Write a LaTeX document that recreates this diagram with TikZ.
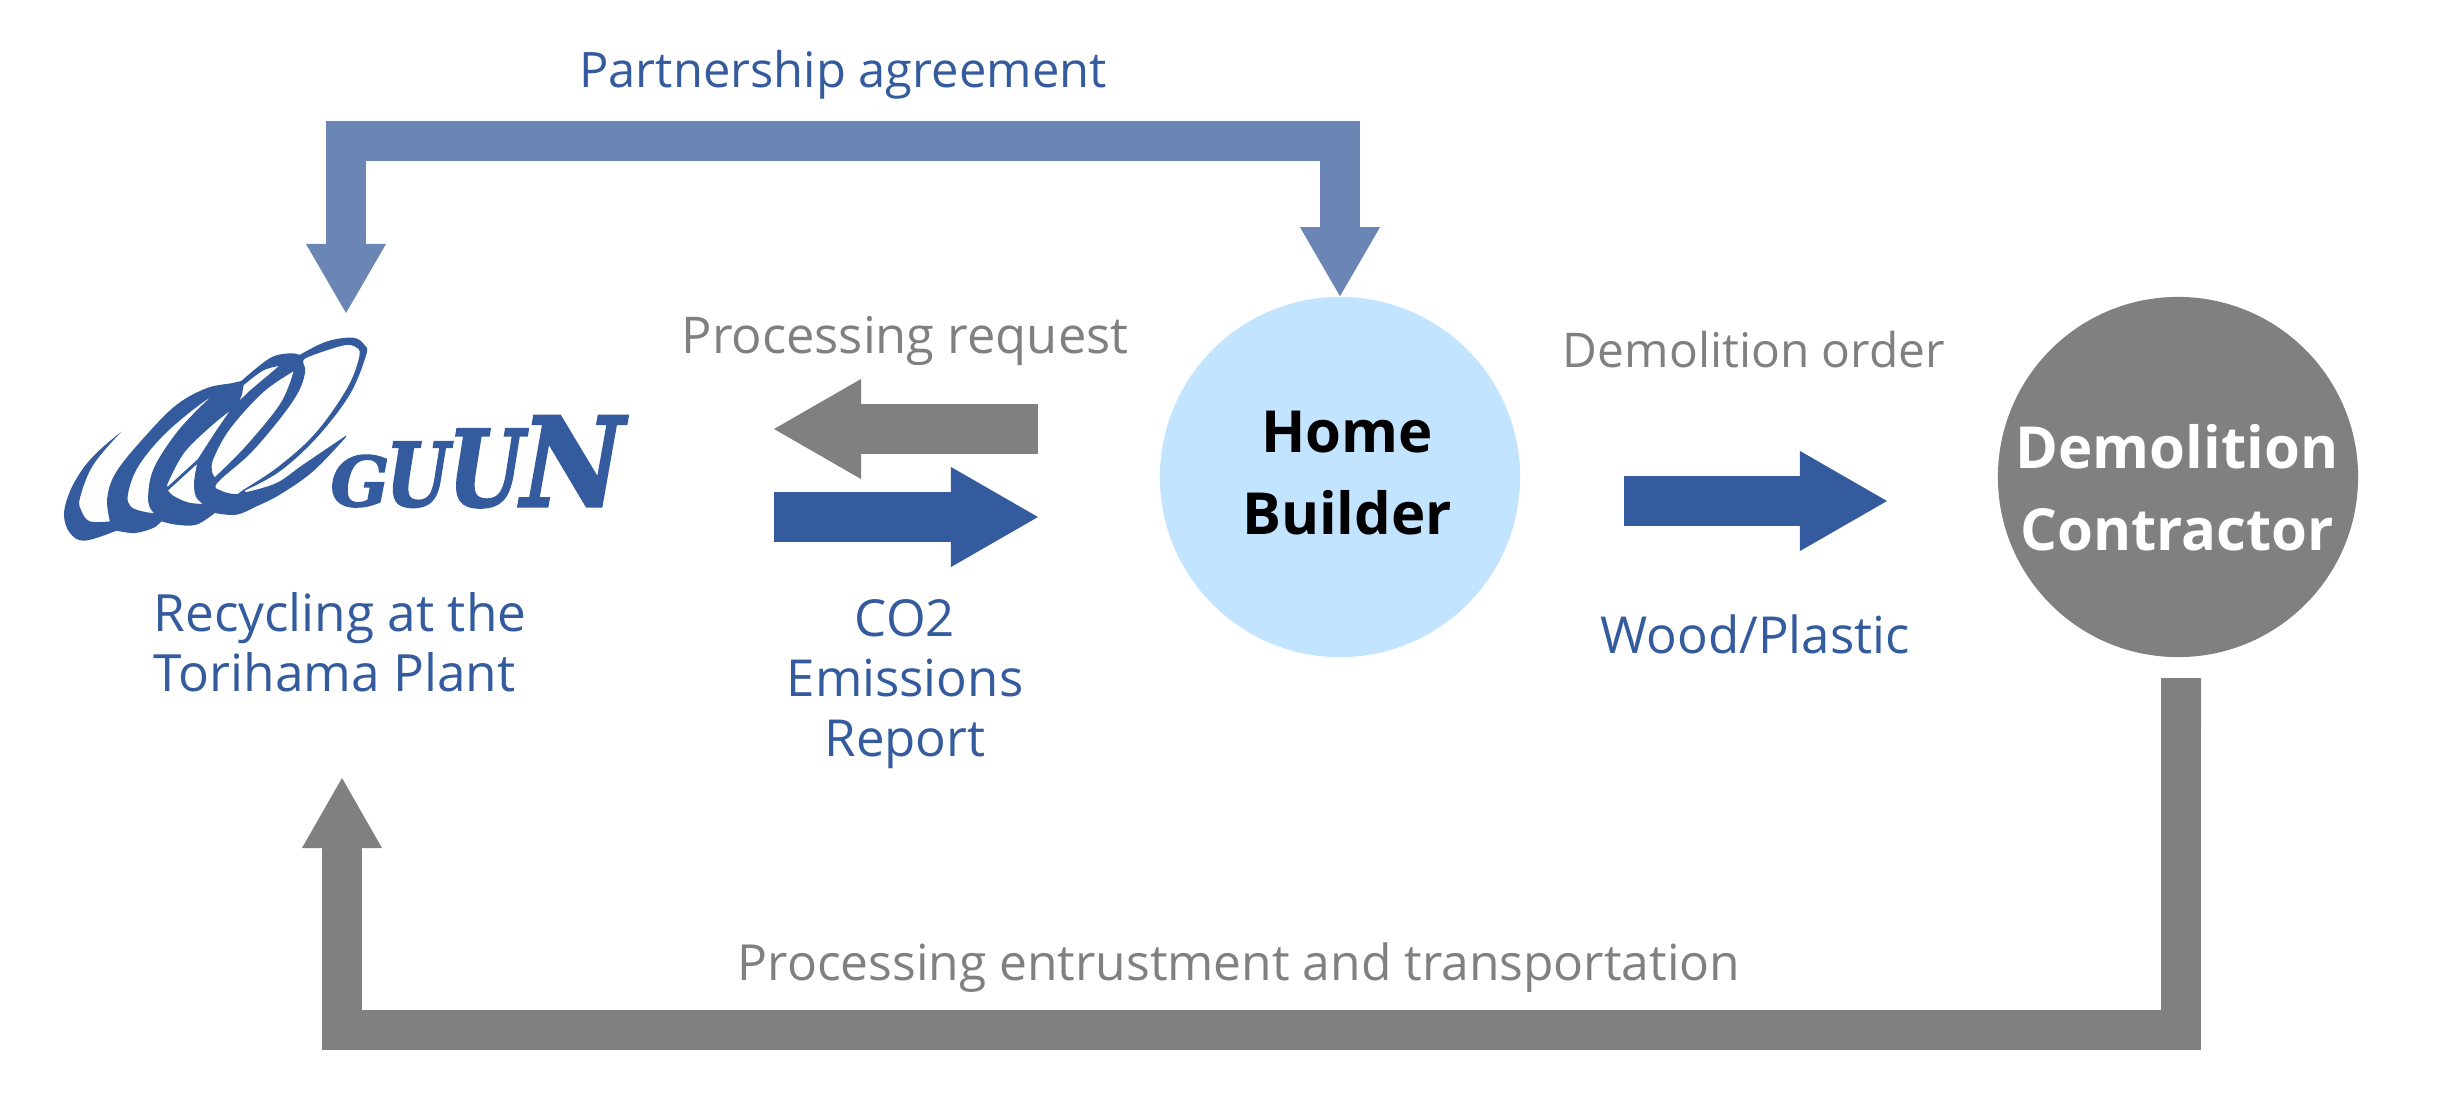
\documentclass[tikz,border=0pt]{standalone}
\usepackage{fontspec}
\setmainfont{Open Sans}
\newfontfamily\logofont[BoldItalicFeatures={FakeBold=2.5}]{DejaVu Serif}
\usetikzlibrary{arrows.meta}

\definecolor{guunblue}{HTML}{335B9E}
\definecolor{softblue}{HTML}{6B86B4}
\definecolor{flowgrey}{HTML}{808080}
\definecolor{homeblue}{HTML}{C2E4FF}

\newcommand{\gsize}[1]{\fontsize{#1}{17}\selectfont}

\tikzset{
  bluetext/.style={text=guunblue, inner sep=0pt, align=center},
  greytext/.style={text=flowgrey, inner sep=0pt},
  party/.style={circle, minimum size=3.6cm, inner sep=0pt},
  partytext/.style={font=\fontsize{16.5}{23.2}\bfseries\selectfont, inner sep=0pt, align=center},
  loopflow/.style={line width=0.4cm, line join=miter, {Triangle[length=0.69cm,width=0.8cm,line width=0pt]}-{Triangle[length=0.69cm,width=0.8cm,line width=0pt]}},
  flow/.style={line width=0.5cm, -{Triangle[length=0.87cm,width=1cm,line width=0pt]}},
  logoletter/.style={text=guunblue, anchor=base west, inner sep=0pt},
  logohole/.style={fill=white, draw=guunblue, line width=0.012cm}
}

\begin{document}
\begin{tikzpicture}[x=0.01cm, y=-0.01cm]
        \useasboundingbox (0,0) rectangle (2456,1108);

        \node[party, fill=homeblue] at (1340,477) (home) {};
        \node[party, fill=flowgrey] at (2178,477) (demo) {};
        \node[partytext] at (1347,473) (homename) {Home\\Builder};
        \node[partytext, text=white] at (2177,488) (demoname) {Demolition\\Contractor};

        % free ends of the two long connectors
        \coordinate (plantin) at (346,313);
        \coordinate (plantup) at (342,778);
        \coordinate (demoout) at (2181,678);
        \coordinate (topleft) at (346,141);
        \coordinate (topright) at (1340,141);
        \coordinate (lowleft) at (342,1030);
        \coordinate (lowright) at (2181,1030);

        \draw[loopflow, softblue] (plantin)--(topleft)--(topright)--(home.north);
        \draw[loopflow, flowgrey, {Triangle[length=0.7cm,width=0.8cm,line width=0pt]}-{Butt Cap[]}] (plantup)--(lowleft)--(lowright)--(demoout);

        \coordinate (reqstart) at (1038,429);
        \coordinate (reqend) at (774,429);
        \coordinate (repstart) at (774,517);
        \coordinate (repend) at (1038,517);
        \coordinate (woodstart) at (1624,501);
        \coordinate (woodend) at (1887,501);
        \draw[flow, flowgrey] (reqstart)--(reqend);
        \draw[flow, guunblue] (repstart)--(repend);
        \draw[flow, guunblue] (woodstart)--(woodend);

        \node[bluetext, font=\gsize{13.9}] at (843,75) (agreement) {Partnership agreement};
        \node[greytext, font=\gsize{14.4}] at (905,341) (request) {Processing request};
        \node[greytext, font=\gsize{13.6}] at (1754,350) (order) {Demolition order};
        \node[bluetext, font=\gsize{14.6}, align=left, anchor=west] at (153,642) (plant) {Recycling at the\\Torihama Plant};
        \node[bluetext, font=\gsize{14.5}] at (905,684) (report) {CO2\\Emissions\\Report};
        \node[bluetext, font=\gsize{14.5}] at (1755,634) (wood) {Wood/Plastic};
        \node[greytext, font=\gsize{14.15}] at (1239,968) (entrust) {Processing entrustment and transportation};

        % logo letters
        \node[logoletter, font=\logofont\bfseries\itshape] at (330,506) (logoname) {\fontsize{19.5}{20}\selectfont G\kern-0.3mm\fontsize{25}{26}\selectfont\scalebox{.82}[1]{U}\kern-0.1mm\fontsize{30}{31}\selectfont\scalebox{.82}[1]{U}\kern-0.2mm\fontsize{35}{36}\selectfont\scalebox{.91}[1]{N}};

        % logo swirl, read off in thirds of a pixel
        \begin{scope}[shift={(50,325)}, x=0.003333cm, y=-0.003333cm]
          \fill[guunblue] plot[smooth, tension=.6] coordinates {(215,320) (130,420) (90,520) (95,560) (120,590) (180,590)}
            -- plot[smooth, tension=.6] coordinates {(180,590) (172,520) (200,440) (290,330) (380,240) (470,190) (545,175) (575,168)}
            -- plot[smooth, tension=.6] coordinates {(575,168) (660,100) (720,85) (750,90)}
            -- plot[smooth, tension=.6] coordinates {(750,90) (830,50) (910,38) (945,60) (950,90) (900,210) (800,340) (690,440) (586,497)}
            -- plot[smooth, tension=.6] coordinates {(586,503) (680,475) (760,420) (890,332)}
            -- plot[smooth, tension=.6] coordinates {(890,336) (790,440) (690,510) (620,545) (560,570) (495,565)}
            -- plot[smooth, tension=.6] coordinates {(495,565) (440,600) (380,600) (335,590)}
            -- plot[smooth, tension=.6] coordinates {(335,590) (310,610) (255,625) (200,618)}
            -- plot[smooth, tension=.6] coordinates {(200,618) (105,648) (60,625) (42,570) (60,500) (100,430) (150,375) (215,320)} -- cycle;
          \filldraw[logohole] plot[smooth, tension=.6] coordinates {(510,195) (420,260) (330,340) (260,430) (232,510) (240,545) (270,560) (315,568)}
            -- plot[smooth, tension=.6] coordinates {(315,565) (297,530) (310,440) (370,340) (440,260) (510,195)} -- cycle;
          \filldraw[logohole] plot[smooth, tension=.6] coordinates {(695,120) (640,135) (580,180)}
            -- (575,210) -- (563,236) -- (600,200) -- cycle;
          \filldraw[logohole] plot[smooth, tension=.6] coordinates {(548,250) (480,305) (400,385) (350,480)}
            -- (352,490) -- (445,405) -- (500,320) -- cycle;
          \filldraw[logohole] plot[smooth, tension=.6] coordinates {(352,497) (370,515) (415,535) (465,540)}
            -- plot[smooth, tension=.6] coordinates {(465,540) (440,515) (435,470) (445,412)} -- cycle;
          \filldraw[logohole] plot[smooth, tension=.6] coordinates {(735,135) (640,200) (540,310) (490,400) (485,440) (495,460)}
            -- plot[smooth, tension=.6] coordinates {(495,460) (590,365) (695,235) (735,135)} -- cycle;
          \filldraw[logohole] plot[smooth cycle, tension=.6] coordinates {(880,60) (800,85) (760,105) (765,140) (745,200) (690,280) (600,385) (500,475) (515,500) (560,510) (582,497) (690,425) (800,325) (895,190) (932,90) (915,62)};
        \end{scope}
\end{tikzpicture}
\end{document}
